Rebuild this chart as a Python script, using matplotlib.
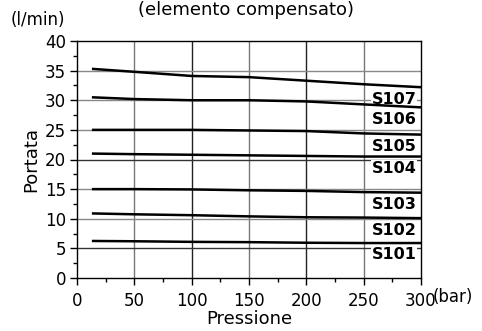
import matplotlib
matplotlib.use("Agg")
import matplotlib.pyplot as plt
from matplotlib.ticker import MultipleLocator

# Flow vs pressure for the compensated element
pressure = [13, 50, 100, 150, 200, 250, 300]
names = ["S107", "S106", "S105", "S104", "S103", "S102", "S101"]
s107 = [35.3, 34.8, 34.1, 33.9, 33.3, 32.7, 32.2]
s106 = [30.5, 30.2, 30.0, 30.0, 29.8, 29.3, 28.8]
s105 = [25.0, 25.0, 25.0, 24.9, 24.8, 24.4, 24.2]
s104 = [21.0, 20.9, 20.8, 20.7, 20.6, 20.5, 20.5]
s103 = [15.0, 15.0, 14.95, 14.8, 14.7, 14.5, 14.4]
s102 = [10.9, 10.75, 10.6, 10.4, 10.25, 10.2, 10.1]
s101 = [6.25, 6.2, 6.1, 6.05, 5.95, 5.9, 5.9]
series = [s107, s106, s105, s104, s103, s102, s101]
xticks = [0, 50, 100, 150, 200, 250, 300]
yticks = [0, 5, 10, 15, 20, 25, 30, 35, 40]

plt.rcParams['font.family'] = ['DejaVu Sans']

fig = plt.figure(figsize=(4.82, 3.31), dpi=100)
ax = fig.add_axes([77/482, 1 - 278/331, 344/482, 237/331])

ax.set_xlim(0, 300)
ax.set_ylim(0, 40)

# grid
for gx in xticks[1:-1]:
    ax.axvline(gx, color="#222222" if gx in (100, 200) else "#777777", lw=1.0, zorder=1)
for gy in yticks[1:-1]:
    ax.axhline(gy, color="#333333" if gy in (5, 20) else "#888888", lw=1.0, zorder=1)

for name, vals in zip(names, series):
    ax.plot(pressure, vals, color="black", lw=1.8, zorder=3, solid_capstyle="butt")
    ax.text(296, vals[-1] - 0.75, name, ha="right", va="top", fontsize=11.5,
            fontweight="bold", zorder=2,
            bbox=dict(facecolor="white", edgecolor="none", pad=0.5))

ax.set_xticks(xticks)
ax.set_yticks(yticks)
ax.xaxis.set_minor_locator(MultipleLocator(25))
ax.yaxis.set_minor_locator(MultipleLocator(2.5))
ax.tick_params(axis="both", which="major", direction="out", length=5, width=1,
               labelsize=12, colors="black", pad=3)
ax.tick_params(axis="both", which="minor", direction="out", length=3, width=1)
ax.tick_params(axis="x", pad=5)

for sp in ax.spines.values():
    sp.set_color("black")
    sp.set_linewidth(1.0)

ax.set_xlabel("Pressione", fontsize=13, labelpad=0)
ax.set_ylabel("Portata", fontsize=13, labelpad=3)

fig.text(246/482, 1 - 10/331, "(elemento compensato)", ha="center", va="center", fontsize=13)
fig.text(38/482, 1 - 20/331, "(l/min)", ha="center", va="center", fontsize=12)
fig.text(453/482, 1 - 297/331, "(bar)", ha="center", va="center", fontsize=12)

fig.savefig("out.png", dpi=100)
